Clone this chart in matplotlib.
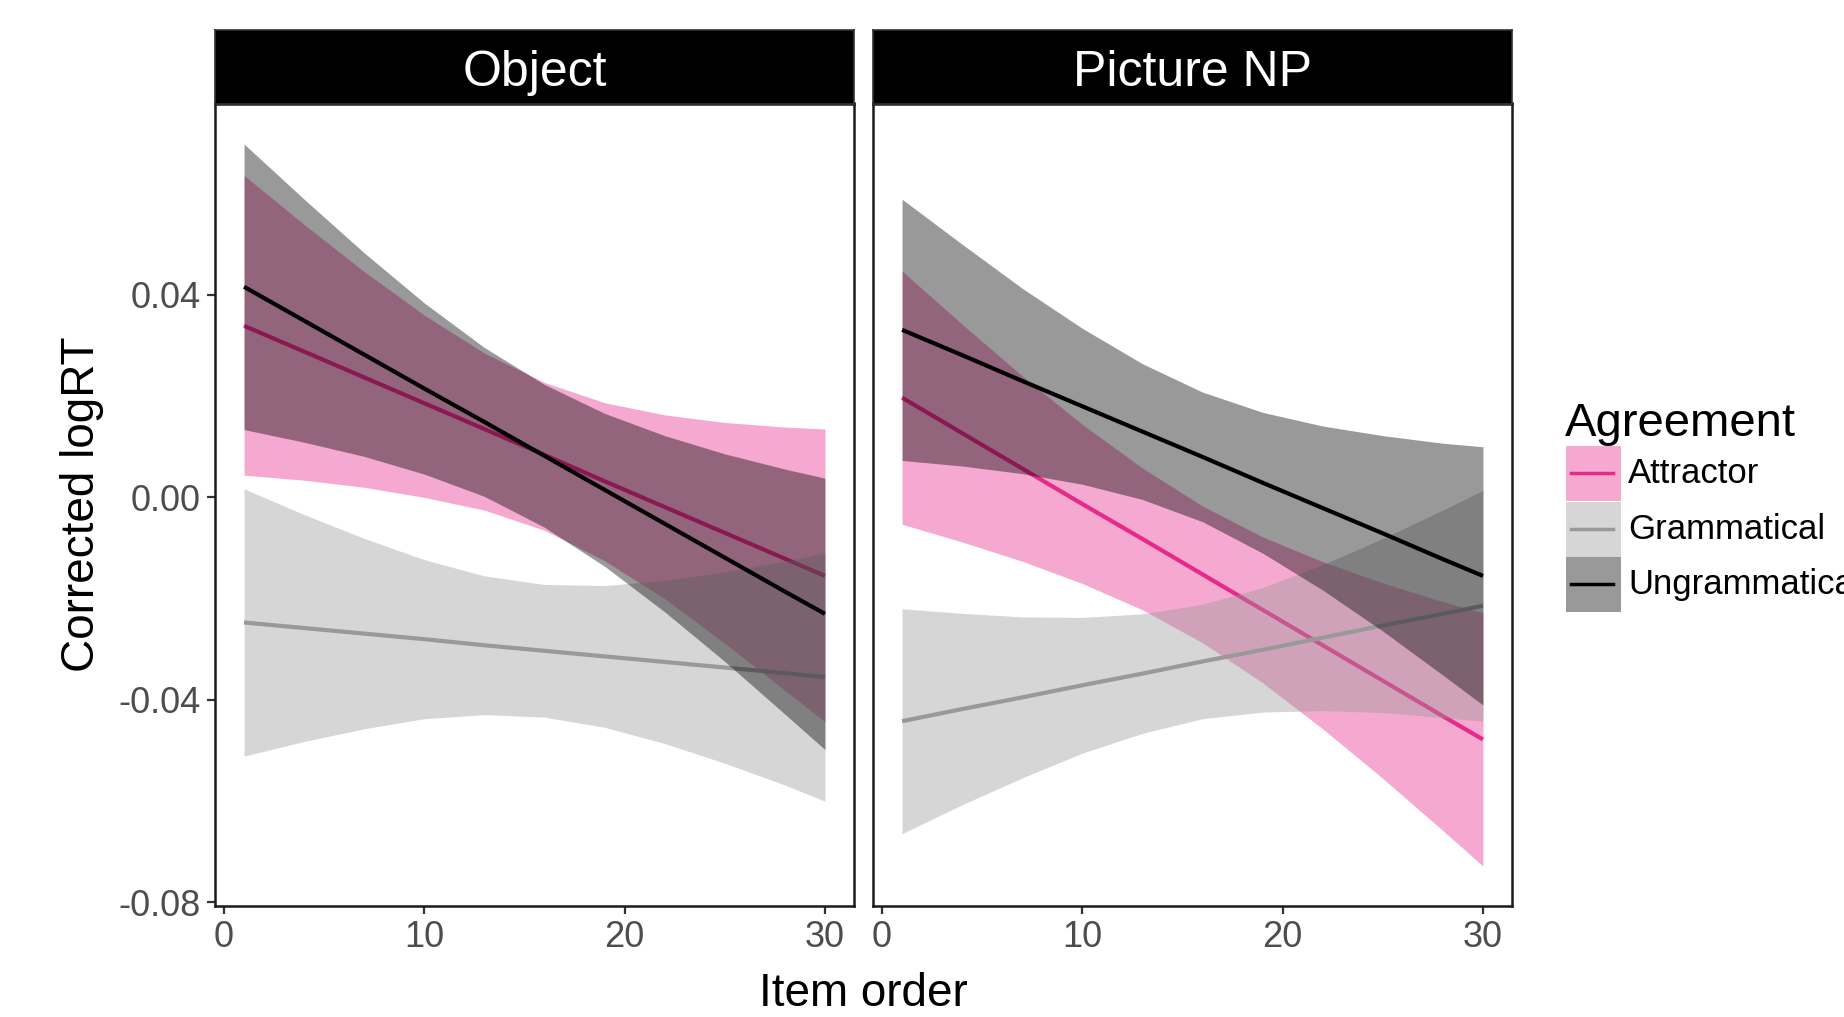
import matplotlib
matplotlib.use("Agg")
import matplotlib.pyplot as plt
from matplotlib.patches import Rectangle
from matplotlib.lines import Line2D

plt.rcParams['font.family'] = ['Liberation Sans', 'DejaVu Sans']

# ---------------- data ----------------
panels = ["Object", "Picture NP"]
groups = ["Attractor", "Grammatical", "Ungrammatical"]
item_order = [1, 4, 7, 10, 13, 16, 19, 22, 25, 28, 30]

# Object panel
obj_attr_fit = [0.0339, 0.0288, 0.0237, 0.0186, 0.0135, 0.0084, 0.0032, -0.0019, -0.0070, -0.0121, -0.0155]
obj_attr_lo = [0.0044, 0.0034, 0.0020, 0.0000, -0.0025, -0.0065, -0.0125, -0.0200, -0.0288, -0.0381, -0.0443]
obj_attr_hi = [0.0636, 0.0539, 0.0446, 0.0360, 0.0285, 0.0227, 0.0187, 0.0163, 0.0148, 0.0139, 0.0135]
obj_gram_fit = [-0.0247, -0.0258, -0.0269, -0.0280, -0.0292, -0.0303, -0.0314, -0.0325, -0.0336, -0.0347, -0.0355]
obj_gram_lo = [-0.0511, -0.0482, -0.0457, -0.0437, -0.0429, -0.0434, -0.0454, -0.0486, -0.0525, -0.0568, -0.0600]
obj_gram_hi = [0.0017, -0.0034, -0.0081, -0.0123, -0.0155, -0.0172, -0.0174, -0.0164, -0.0147, -0.0126, -0.0110]
obj_ungr_fit = [0.0416, 0.0349, 0.0282, 0.0215, 0.0149, 0.0082, 0.0015, -0.0052, -0.0119, -0.0186, -0.0230]
obj_ungr_lo = [0.0134, 0.0109, 0.0081, 0.0046, 0.0002, -0.0059, -0.0136, -0.0226, -0.0324, -0.0428, -0.0498]
obj_ungr_hi = [0.0698, 0.0589, 0.0483, 0.0384, 0.0296, 0.0223, 0.0166, 0.0122, 0.0086, 0.0056, 0.0038]

# Picture NP panel
pic_attr_fit = [0.0197, 0.0127, 0.0057, -0.0013, -0.0082, -0.0152, -0.0222, -0.0292, -0.0362, -0.0432, -0.0478]
pic_attr_lo = [-0.0053, -0.0088, -0.0126, -0.0170, -0.0222, -0.0287, -0.0366, -0.0457, -0.0555, -0.0658, -0.0728]
pic_attr_hi = [0.0447, 0.0342, 0.0240, 0.0144, 0.0058, -0.0017, -0.0078, -0.0127, -0.0169, -0.0206, -0.0228]
pic_gram_fit = [-0.0442, -0.0418, -0.0395, -0.0371, -0.0348, -0.0324, -0.0301, -0.0277, -0.0253, -0.0230, -0.0214]
pic_gram_lo = [-0.0664, -0.0607, -0.0554, -0.0505, -0.0466, -0.0437, -0.0424, -0.0421, -0.0425, -0.0435, -0.0442]
pic_gram_hi = [-0.0220, -0.0229, -0.0236, -0.0237, -0.0230, -0.0211, -0.0178, -0.0133, -0.0081, -0.0025, 0.0014]
pic_ungr_fit = [0.0331, 0.0281, 0.0230, 0.0180, 0.0130, 0.0080, 0.0029, -0.0021, -0.0071, -0.0122, -0.0155]
pic_ungr_lo = [0.0073, 0.0062, 0.0047, 0.0026, -0.0004, -0.0048, -0.0110, -0.0183, -0.0264, -0.0351, -0.0410]
pic_ungr_hi = [0.0589, 0.0500, 0.0413, 0.0334, 0.0264, 0.0208, 0.0168, 0.0141, 0.0122, 0.0107, 0.0100]

y_ticks = [-0.08, -0.04, 0.00, 0.04]
y_tick_labels = ["-0.08", "-0.04", "0.00", "0.04"]
x_ticks = [0, 10, 20, 30]
x_tick_labels = ["0", "10", "20", "30"]

colors = {"Attractor": "#e7298a", "Grammatical": "#999999", "Ungrammatical": "#000000"}

panel_data = {
    "Object": {
        "Attractor": (obj_attr_fit, obj_attr_lo, obj_attr_hi),
        "Grammatical": (obj_gram_fit, obj_gram_lo, obj_gram_hi),
        "Ungrammatical": (obj_ungr_fit, obj_ungr_lo, obj_ungr_hi),
    },
    "Picture NP": {
        "Attractor": (pic_attr_fit, pic_attr_lo, pic_attr_hi),
        "Grammatical": (pic_gram_fit, pic_gram_lo, pic_gram_hi),
        "Ungrammatical": (pic_ungr_fit, pic_ungr_lo, pic_ungr_hi),
    },
}

# ---------------- figure ----------------
W, H = 1844, 1017
fig = plt.figure(figsize=(W / 100, H / 100), dpi=100)
fig.patch.set_facecolor("white")

def fx(px):
    return px / W

def fy(py):
    return 1 - py / H

panel_left = [215, 873]
panel_w = 639
top_px, bot_px = 103.5, 905.5
strip_top = 30

for i, name in enumerate(panels):
    ax = fig.add_axes([fx(panel_left[i]), fy(bot_px), panel_w / W, (bot_px - top_px) / H])
    for k, g in enumerate(groups):
        fit, lo, hi = panel_data[name][g]
        ax.fill_between(item_order, lo, hi, color=colors[g], alpha=0.4,
                        linewidth=0, zorder=2 * k + 1)
        ax.plot(item_order, fit, color=colors[g], linewidth=3.0,
                solid_capstyle="butt", zorder=2 * k + 2)
    ax.set_xlim(-0.45, 31.45)
    ax.set_ylim(-0.0806, 0.0778)
    ax.set_xticks(x_ticks)
    ax.set_xticklabels(x_tick_labels)
    ax.set_yticks(y_ticks)
    if i == 0:
        ax.set_yticklabels(y_tick_labels)
    else:
        ax.tick_params(axis="y", left=False, labelleft=False)
    for s in ax.spines.values():
        s.set_linewidth(1.8)
        s.set_color("#1a1a1a")
        s.set_zorder(20)
    ax.tick_params(axis="both", length=5.5, width=1.6, color="#333333",
                   labelsize=26, labelcolor="#4d4d4d", pad=5)

    # strip
    sax = fig.add_axes([fx(panel_left[i]), fy(top_px), panel_w / W, (top_px - strip_top) / H])
    sax.set_facecolor("black")
    sax.set_xticks([])
    sax.set_yticks([])
    for s in sax.spines.values():
        s.set_color("#333333")
        s.set_linewidth(1.2)
    sax.text(0.5, 0.42, name, color="white", fontsize=36, ha="center", va="center",
             transform=sax.transAxes)

fig.text(fx(82), fy(504), "Corrected logRT", rotation=90, fontsize=33,
         ha="center", va="center", color="black")
fig.text(fx(863), fy(1006), "Item order", fontsize=33, ha="center",
         va="baseline", color="black")

# legend
fig.text(fx(1565), fy(436), "Agreement", fontsize=34, ha="left", va="baseline", color="black")
key_tops = [446, 501.7, 556.7]
key_h = 55
for g, t in zip(groups, key_tops):
    fig.add_artist(Rectangle((fx(1566), fy(t + key_h)), 55 / W, key_h / H,
                             transform=fig.transFigure, facecolor=colors[g],
                             alpha=0.4, edgecolor="none"))
    yc = fy(t + key_h / 2)
    fig.add_artist(Line2D([fx(1571), fx(1613)], [yc, yc], transform=fig.transFigure,
                          color=colors[g], linewidth=2.5))
    fig.text(fx(1628), yc, g, fontsize=25, ha="left", va="center", color="black")

fig.savefig("out.png", dpi=100)
